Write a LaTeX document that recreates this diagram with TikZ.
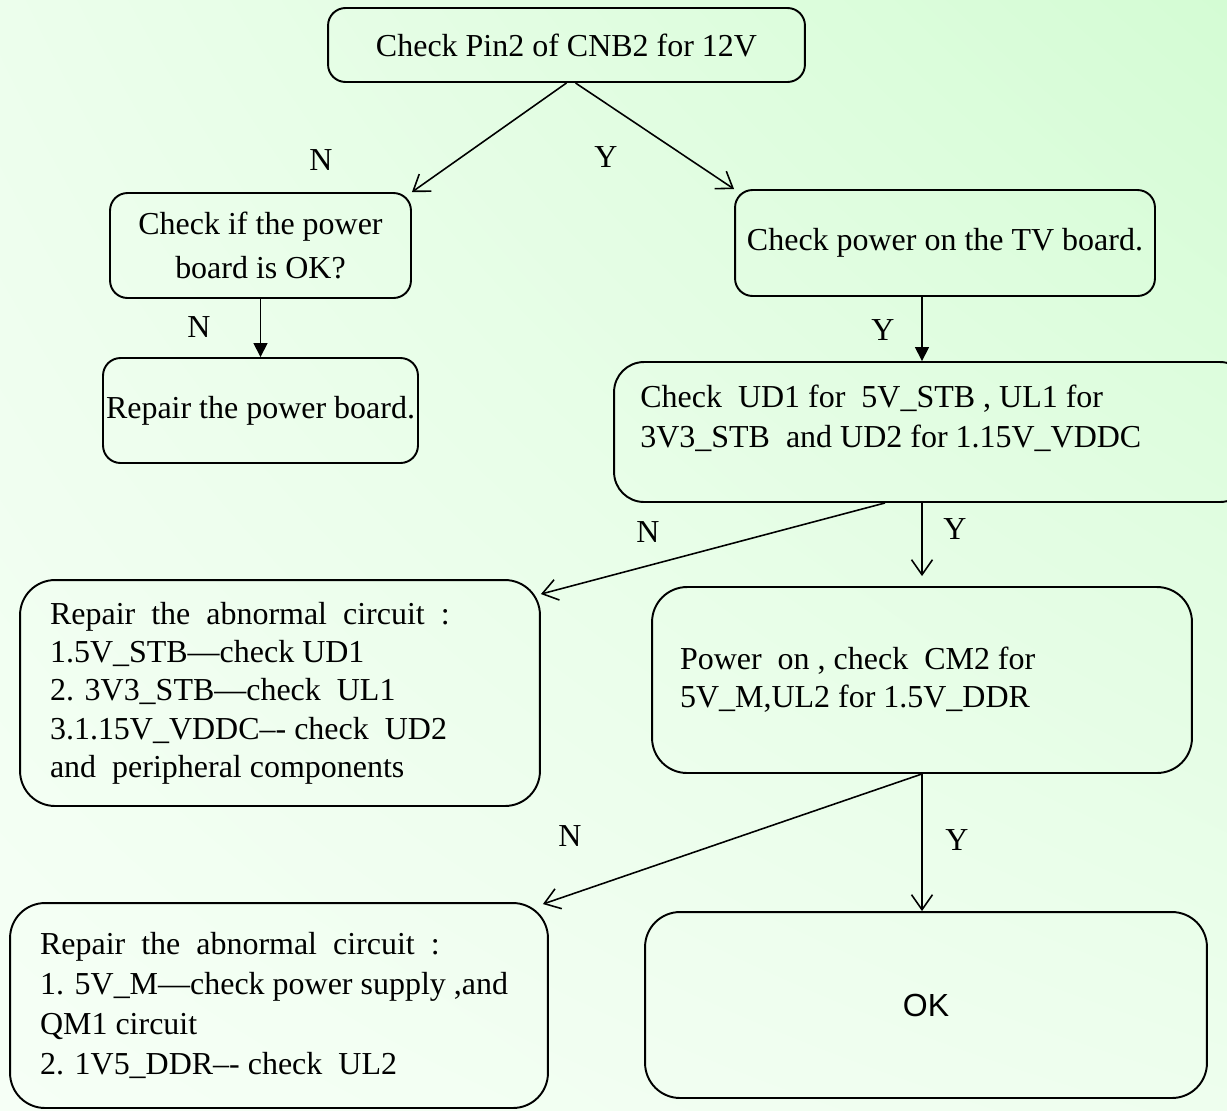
\documentclass[tikz,border=0pt]{standalone}
\usepackage{xcolor}
\usepackage{fontspec}
\setmainfont{Liberation Serif}
\newfontfamily\oksans{Liberation Sans}
\usetikzlibrary{positioning,calc,arrows.meta,shadings}

\definecolor{bgUL}{RGB}{236,254,236}
\definecolor{bgUR}{RGB}{212,252,212}
\definecolor{bgLL}{RGB}{246,255,246}
\definecolor{bgLR}{RGB}{238,254,238}

\tikzset{
  box/.style={draw, line width=1.1pt, rounded corners=0.35cm, align=center, inner sep=0pt},
  bigbox/.style={draw, line width=1.1pt, rounded corners=0.7cm, align=flush left, inner ysep=0pt},
  yn/.style={inner sep=0pt},
  openarrow/.style={line width=0.9pt, -{Straight Barb[length=0.3cm,width=0.42cm]}},
  fillarrow/.style={line width=0.9pt, -{Triangle[length=0.28cm,width=0.28cm]}},
}

\begin{document}
\begin{tikzpicture}[x=0.02cm, y=-0.02cm, font=\fontsize{18.2}{21.8}\selectfont]
		\shade[upper left=bgUL, upper right=bgUR, lower left=bgLL, lower right=bgLR] (0,0) rectangle (1227,1110);
		\useasboundingbox (0,0) rectangle (1227,1110);
		% boxes
		\node[box, minimum width=9.54cm, minimum height=1.48cm] (pin) at (566.5,45) {Check Pin2 of CNB2 for 12V};
		\node[box, minimum width=6.02cm, minimum height=2.1cm, font=\fontsize{18.2}{25}\selectfont] (chk) at (260.5,245.5) {Check if the power\\board is OK?};
		\node[box, minimum width=8.4cm, minimum height=2.12cm] (tv) at (945,243) {Check power on the TV board.};
		\node[box, minimum width=6.3cm, minimum height=2.1cm] (rep) at (260.5,410.5) {Repair the power board.};
		\node[box, rounded corners=0.6cm, minimum width=12.72cm, minimum height=2.8cm] (ud) at (932,432) {};
		\node[anchor=north west, align=flush left, inner sep=0pt, font=\fontsize{18.2}{22.6}\selectfont] (udtxt) at (640,385) {Check~ UD1 for~ 5V\_STB , UL1 for\\3V3\_STB~ and UD2 for 1.15V\_VDDC};
		\node[bigbox, text width=9.2cm, inner xsep=0.6cm, minimum height=4.52cm] (repA) at (280,693) {Repair~ the~ abnormal~ circuit~ :\\1.5V\_STB---check UD1\\2. 3V3\_STB---check~ UL1\\3.1.15V\_VDDC--{}- check~ UD2\\and~ peripheral components};
		\node[bigbox, text width=9.68cm, inner xsep=0.56cm, minimum height=3.72cm] (pon) at (922,680) {Power~ on , check~ CM2 for\\5V\_M,UL2 for 1.5V\_DDR};
		\node[bigbox, text width=9.56cm, inner xsep=0.6cm, minimum height=4.1cm, font=\fontsize{18.2}{22.6}\selectfont] (repB) at (279,1005.5) {Repair~ the~ abnormal~ circuit~ :\\\mbox{1. 5V\_M---check power supply ,and}\\QM1 circuit\\2. 1V5\_DDR--{}- check~ UL2};
		\node[bigbox, align=center, minimum width=11.24cm, minimum height=3.72cm] (ok) at (926,1005) {\oksans OK};
		% labels
		\node[yn] (n1) at (321,160) {N};
		\node[yn] (y1) at (606,157) {Y};
		\node[yn] (n2) at (199,327) {N};
		\node[yn] (y2) at (883,330) {Y};
		\node[yn] (n3) at (648,532) {N};
		\node[yn] (y3) at (955,529) {Y};
		\node[yn] (n4) at (570,836) {N};
		\node[yn] (y4) at (957,840) {Y};
		% arrows
		\draw[openarrow] (pin.south) -- (chk.north east);
		\draw[openarrow] ($(pin.south)+(9,0)$) -- (tv.north west);
		\draw[fillarrow] (chk.south) -- (rep.north);
		\draw[fillarrow] (tv.south -| pon.north) -- (ud.north -| pon.north);
		\draw[openarrow] ($(ud.south)+(-47,0)$) -- ($(repA.north east)+(0,15)$);
		\draw[openarrow] (ud.south -| pon.north) -- ($(pon.north)+(0,-10)$);
		\draw[openarrow] (pon.south) -- ($(repB.north east)+(-6,2)$);
		\draw[openarrow] (pon.south) -- (pon.south |- ok.north);
	\end{tikzpicture}
\end{document}
